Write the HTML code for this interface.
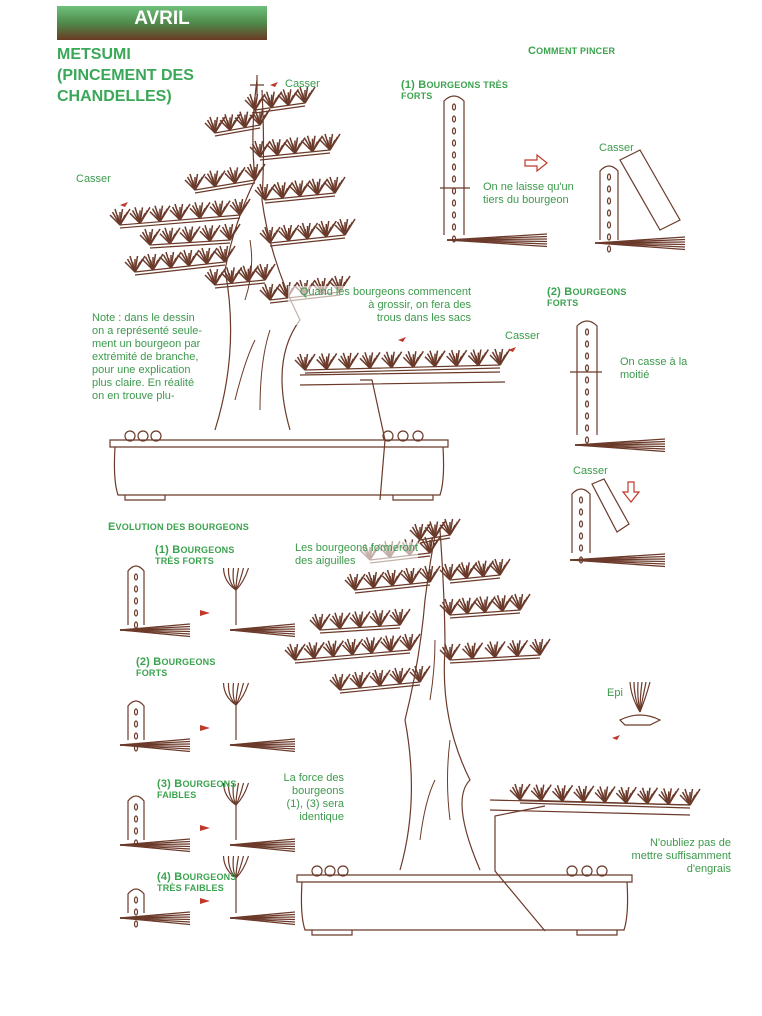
<!DOCTYPE html>
<html><head><meta charset="utf-8">
<style>
body{margin:0;background:#fff;}
#p{position:relative;width:762px;height:1016px;overflow:hidden;background:#fff;font-family:"Liberation Sans",sans-serif;}
.t{position:absolute;font-size:11px;color:#3c9a4c;line-height:13px;}
.h{position:absolute;color:#3aa34e;font-weight:bold;font-size:9px;line-height:11px;letter-spacing:.2px}
.h b{font-size:11px}
svg{position:absolute;left:0;top:0}
</style></head><body><div id="p">
<div style="position:absolute;left:57px;top:6px;width:210px;height:34px;background:linear-gradient(#6fc07c,#4f8a4a 50%,#6a3a22);"></div>
<div style="position:absolute;left:57px;top:8px;width:210px;text-align:center;color:#fff;font-weight:bold;font-size:19px;">AVRIL</div>
<div style="position:absolute;left:57px;top:44px;color:#3aa858;font-weight:bold;font-size:16px;line-height:21px;">METSUMI<br>(PINCEMENT DES<br>CHANDELLES)</div>
<svg id="s" width="762" height="1016" viewBox="0 0 762 1016" fill="none" stroke="#6b3a2a" stroke-width="1.2"></svg>
<div class="h" style="left:528px;top:46px;"><b>C</b>OMMENT PINCER</div>
<div class="t" style="left:285px;top:78px;">Casser</div>
<div class="h" style="left:401px;top:80px;"><b>(1) B</b>OURGEONS TRÈS<br>FORTS</div>
<div class="t" style="left:599px;top:142px;">Casser</div>
<div class="t" style="left:76px;top:173px;">Casser</div>
<div class="t" style="left:483px;top:181px;">On ne laisse qu'un<br>tiers du bourgeon</div>
<div class="t" style="left:288px;top:286px;text-align:right;width:183px;background:rgba(255,255,255,.6)">Quand les bourgeons commencent<br>à grossir, on fera des<br>trous dans les sacs</div>
<div class="h" style="left:547px;top:287px;"><b>(2) B</b>OURGEONS<br>FORTS</div>
<div class="t" style="left:92px;top:312px;">Note : dans le dessin<br>on a représenté seule-<br>ment un bourgeon par<br>extrémité de branche,<br>pour une explication<br>plus claire. En réalité<br>on en trouve plu-</div>
<div class="t" style="left:505px;top:330px;">Casser</div>
<div class="t" style="left:620px;top:356px;">On casse à la<br>moitié</div>
<div class="t" style="left:573px;top:465px;">Casser</div>
<div class="h" style="left:108px;top:522px;"><b>E</b>VOLUTION DES BOURGEONS</div>
<div class="h" style="left:155px;top:545px;"><b>(1) B</b>OURGEONS<br>TRÈS FORTS</div>
<div class="t" style="left:295px;top:542px;background:rgba(255,255,255,.6)">Les bourgeons formeront<br>des aiguilles</div>
<div class="h" style="left:136px;top:657px;"><b>(2) B</b>OURGEONS<br>FORTS</div>
<div class="t" style="left:607px;top:687px;">Epi</div>
<div class="h" style="left:157px;top:779px;"><b>(3) B</b>OURGEONS<br>FAIBLES</div>
<div class="t" style="left:280px;top:772px;text-align:right;width:64px;">La force des<br>bourgeons<br>(1), (3) sera<br>identique</div>
<div class="t" style="left:610px;top:837px;text-align:right;width:121px;">N'oubliez pas de<br>mettre suffisamment<br>d'engrais</div>
<div class="h" style="left:157px;top:872px;"><b>(4) B</b>OURGEONS<br>TRÈS FAIBLES</div>
</div>
<script>
const s=document.getElementById('s');let h='';
function L(d,w,c){h+=`<path d="${d}" stroke-width="${w||1.2}" ${c?'stroke="'+c+'"':''}/>`;}
function branch(x1,y1,x2,y2,k){L(`M${x1} ${y1}L${x2} ${y2}M${x1} ${y1+3}L${x2} ${y2+3}`);let st=(x2-x1)/k;for(let i=0;i<=k;i++){let x=x1+st*i,y=y1+(y2-y1)*i/k;for(let j=0;j<9;j++){h+=`<line x1="${x}" y1="${y}" x2="${x+(j-4)*2.5}" y2="${y-10-(j%3)*3}" stroke-width="1.5"/>`;}}}
function pot(x,y,w){L(`M${x} ${y}L${x+w} ${y}L${x+w} ${y+7}L${x} ${y+7}Z`);L(`M${x+5} ${y+7}Q${x+3} ${y+40} ${x+8} ${y+55}L${x+w-8} ${y+55}Q${x+w-3} ${y+40} ${x+w-5} ${y+7}`);L(`M${x+15} ${y+55}v5h40v-5M${x+w-55} ${y+55}v5h40v-5`);for(let i=0;i<3;i++)h+=`<circle cx="${x+20+i*13}" cy="${y-4}" r="5"/><circle cx="${x+w-60+i*15}" cy="${y-4}" r="5"/>`;}
function candle(x,y,w,ht){L(`M${x} ${y+ht}L${x} ${y+6}Q${x+w/2} ${y-4} ${x+w} ${y+6}L${x+w} ${y+ht}`);for(let i=0;i<ht/12;i++)h+=`<ellipse cx="${x+w/2}" cy="${y+12+i*12}" rx="1.5" ry="3"/>`;}
function tuft(x,y,len){for(let i=0;i<6;i++)L(`M${x} ${y}L${x+len} ${y-6+i*2.5}`,1.3);}
// top tree
pot(110,440,338);
L('M215 430Q240 350 225 270Q235 220 255 180Q250 130 257 80M290 430Q270 360 300 320Q270 260 262 200Q265 150 262 90');
L('M235 400q10-40 20-60M260 410q0-50 10-80M245 300q10-30 5-60',1);
L('M300 375L500 372M300 385L505 382');L('M360 380L372 380L385 440L380 500');
branch(120,225,240,215,6);branch(135,272,225,262,5);branch(270,243,345,235,4);branch(195,190,255,180,3);branch(260,157,330,150,4);branch(215,133,260,125,3);branch(255,110,305,103,3);branch(270,300,340,292,4);branch(215,285,265,280,3);branch(305,370,500,365,9);branch(150,245,230,240,4);branch(265,200,335,193,4);
L('M257 75v20M250 85h14');
// top right
candle(444,95,20,140);tuft(447,240,100);L('M440 188h30');
candle(600,165,18,75);tuft(595,243,90);L('M620 160l20-10 40 70-20 10z');
candle(577,320,20,115);tuft(575,445,90);L('M570 372h32');
candle(572,488,18,65);tuft(570,560,95);L('M592 484l12-5 25 45-12 8z');
// bottom tree
pot(297,875,335);
L('M400 870Q420 800 405 720Q420 660 425 600Q430 560 437 525M480 870Q450 800 470 780Q440 720 445 650Q445 600 440 530');
L('M420 840q5-40 15-60M450 820q-5-40 0-80M430 700q5-30 5-60',1);
L('M490 800L690 805M490 810L690 815');L('M545 806l-50 10v55l50 60');
branch(295,660,410,650,6);branch(320,630,400,625,4);branch(450,660,540,655,4);branch(355,590,430,582,4);branch(450,615,520,610,4);branch(370,560,430,553,3);branch(450,580,500,575,3);branch(340,690,420,682,4);branch(520,800,690,805,8);branch(420,540,450,535,2);
// evolution sketches
const rows=[[565,60],[700,40],[795,45],[888,25]];
rows.forEach((r,i)=>{let y=r[0];candle(128,y,16,r[1]);tuft(120,y+r[1]+5,70);tuft(230,y+r[1]+5,65);L(`M236 ${y+r[1]}v-40`);for(let j=0;j<6;j++)L(`M236 ${y+r[1]-35}q${(j-3)*4} -8 ${(j-2.5)*5} -22`);h+=`<path d="M${200} ${y+r[1]-15}l10 3-10 3z" fill="#c0392b" stroke="none"/>`;});
// epi
L('M620 720q20-10 40 0l-10 5h-25z');for(let j=0;j<6;j++)L(`M640 712q${(j-3)*3} -15 ${(j-2.5)*4} -30`);
const R='#c0392b';
[[270,85,-1],[120,205,0],[398,340,0],[508,350,0],[612,738,0]].forEach(a=>h+=`<path d="M${a[0]} ${a[1]}l8 -3-3 5z" fill="${R}" stroke="none"/>`);
L('M525 160h12v-5l10 8-10 8v-5h-12z',1.2,R);L('M628 482v10h-5l8 10 8-10h-5v-10z',1.2,R);
s.innerHTML=h;
</script>
</body></html>
